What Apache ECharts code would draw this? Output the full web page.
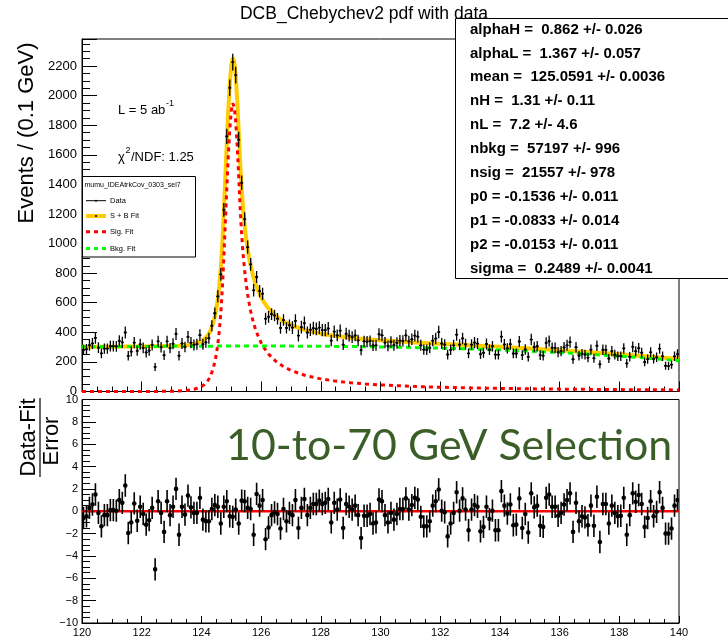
<!DOCTYPE html>
<html><head><meta charset="utf-8">
<script src="https://cdn.jsdelivr.net/npm/echarts@6/dist/echarts.min.js"></script>
<style>html,body{margin:0;padding:0;background:#fff}#c{width:728px;height:642px}</style>
</head><body><div id="c"></div>
<script>
// ---------------- DATA ----------------
const binCenters = [
120.05,120.15,120.25,120.35,120.45,120.55,120.65,120.75,120.85,120.95,
121.05,121.15,121.25,121.35,121.45,121.55,121.65,121.75,121.85,121.95,
122.05,122.15,122.25,122.35,122.45,122.55,122.65,122.75,122.85,122.95,
123.05,123.15,123.25,123.35,123.45,123.55,123.65,123.75,123.85,123.95,
124.05,124.15,124.25,124.35,124.45,124.55,124.65,124.75,124.85,124.95,
125.05,125.15,125.25,125.35,125.45,125.55,125.65,125.75,125.85,125.95,
126.05,126.15,126.25,126.35,126.45,126.55,126.65,126.75,126.85,126.95,
127.05,127.15,127.25,127.35,127.45,127.55,127.65,127.75,127.85,127.95,
128.05,128.15,128.25,128.35,128.45,128.55,128.65,128.75,128.85,128.95,
129.05,129.15,129.25,129.35,129.45,129.55,129.65,129.75,129.85,129.95,
130.05,130.15,130.25,130.35,130.45,130.55,130.65,130.75,130.85,130.95,
131.05,131.15,131.25,131.35,131.45,131.55,131.65,131.75,131.85,131.95,
132.05,132.15,132.25,132.35,132.45,132.55,132.65,132.75,132.85,132.95,
133.05,133.15,133.25,133.35,133.45,133.55,133.65,133.75,133.85,133.95,
134.05,134.15,134.25,134.35,134.45,134.55,134.65,134.75,134.85,134.95,
135.05,135.15,135.25,135.35,135.45,135.55,135.65,135.75,135.85,135.95,
136.05,136.15,136.25,136.35,136.45,136.55,136.65,136.75,136.85,136.95,
137.05,137.15,137.25,137.35,137.45,137.55,137.65,137.75,137.85,137.95,
138.05,138.15,138.25,138.35,138.45,138.55,138.65,138.75,138.85,138.95,
139.05,139.15,139.25,139.35,139.45,139.55,139.65,139.75,139.85,139.95];

const dataCounts = [
281,286,313,325,362,297,258,290,290,307,
307,305,342,332,399,241,270,330,275,319,
295,264,277,315,166,339,299,245,339,293,
323,389,242,325,301,369,330,315,320,381,
320,332,360,444,529,643,792,1228,1725,2053,
2227,2139,1703,1411,1165,976,860,684,774,679,
661,492,505,523,514,492,430,483,430,448,
432,477,378,435,462,399,418,428,423,432,
415,415,426,344,405,379,411,317,390,378,
368,379,345,280,339,337,341,311,312,387,
380,331,308,336,313,329,344,342,379,339,
353,378,371,312,283,282,295,344,358,402,
324,317,250,282,312,384,317,359,319,258,
317,331,324,252,262,321,282,306,249,249,
371,318,292,320,257,257,338,246,284,234,
351,301,306,246,242,329,340,296,295,266,
273,298,312,334,218,299,242,255,250,229,
283,225,309,184,282,281,223,273,249,239,
239,291,190,235,302,272,293,262,199,219,
265,220,231,290,238,174,172,182,238,253];

const dataErrors = [
35,35,37,37,39,36,33,35,35,36,
36,36,38,38,41,32,34,38,34,37,
36,34,35,37,27,38,36,32,38,35,
37,41,32,37,36,40,38,37,37,40,
37,37,38,38,39,41,43,47,52,56,
57,56,53,49,46,44,43,42,41,41,
40,40,40,39,39,39,39,39,38,38,
43,45,40,43,45,41,42,43,43,43,
42,42,43,38,42,40,42,37,41,40,
40,40,39,35,38,38,38,37,37,41,
40,38,36,38,37,38,38,38,40,38,
39,40,40,37,35,35,36,38,39,42,
37,37,33,35,37,41,37,39,37,33,
37,38,37,33,34,37,35,36,33,33,
40,37,35,37,33,33,38,33,35,32,
39,36,36,33,32,38,38,36,36,34,
34,36,37,38,31,36,32,33,33,31,
35,31,36,28,35,35,31,34,33,32,
32,35,29,32,36,34,35,34,29,31,
34,31,32,35,32,27,27,28,32,33];

const pulls = [
-0.6,-0.45,0.3,0.6,1.5,-0.15,-1.35,-0.35,-0.35,0.1,
0.1,0.05,1.0,0.75,2.3,-1.95,-1.0,0.7,-0.85,0.4,
-0.25,-1.2,-0.8,0.3,-5.2,0.9,-0.15,-1.85,0.9,-0.35,
0.4,2.0,-2.1,0.4,-0.3,1.4,0.35,-0.15,-0.15,1.2,
-0.75,-0.9,-0.9,0.2,0.55,0.4,-1.1,0.4,0.9,-0.45,
-0.5,0.15,-1.1,0.95,0.9,0.3,0.2,-2.1,1.55,0.5,
1.0,-2.5,-1.45,-0.35,-0.1,-0.25,-1.55,0.2,-0.9,-0.15,
-0.35,1.0,-1.5,0.3,1.1,-0.35,0.3,0.65,0.65,0.95,
0.65,0.75,1.1,-1.0,0.75,0.15,1.05,-1.5,0.65,0.4,
0.15,0.5,-0.35,-2.4,-0.4,-0.4,-0.25,-1.1,-1.0,1.05,
0.9,-0.35,-1.0,-0.15,-0.75,-0.25,0.2,0.2,1.15,0.15,
0.55,1.2,1.05,-0.5,-1.35,-1.35,-0.9,0.5,0.9,1.95,
0.05,-0.1,-2.25,-1.1,-0.15,1.7,0.05,1.15,0.15,-1.7,
0.15,0.55,0.4,-1.8,-1.4,0.4,-0.7,0.05,-1.7,-1.7,
1.8,0.5,-0.2,0.6,-1.25,-1.2,1.15,-1.5,-0.25,-1.9,
1.6,0.35,0.5,-1.3,-1.4,1.2,1.5,0.4,0.4,-0.4,
-0.15,0.6,1.0,1.6,-1.85,0.75,-0.9,-0.45,-0.55,-1.25,
0.5,-1.3,1.3,-2.75,0.65,0.65,-1.1,0.5,-0.15,-0.45,
-0.4,1.2,-2.1,-0.35,1.6,0.85,1.45,0.65,-1.4,-0.6,
0.9,-0.45,-0.05,1.7,0.3,-2.0,-2.0,-1.55,0.5,1.0];
const pullError = 1;
const binHalfWidth = 0.05;

// fit curves, read along the mass axis
const curveMass = [120,120.5,121,121.5,122,122.5,123,123.25,123.5,123.75,124,124.05,124.1,124.15,124.2,124.25,124.3,124.35,124.4,124.45,124.5,124.55,124.6,124.65,124.7,124.72,124.75,124.8,124.85,124.9,124.95,125,125.05,125.1,125.15,125.2,125.25,125.3,125.35,125.4,125.45,125.5,125.55,125.6,125.65,125.7,125.75,125.8,125.9,126,126.1,126.25,126.5,126.75,127,127.5,128,128.5,129,129.5,130,131,132,133,134,135,136,137,138,139,140];
const sigFit = [0,0,0.1,0.1,0.2,0.6,1.8,3.4,6.8,14.3,32.9,39.4,47.4,57.2,69.5,84.8,104,129,160,200,252,320,410,530,692,766,902,1134,1370,1590,1771,1896,1949,1924,1824,1661,1453,1231,1057,922,815,728,656,595,544,500,462,429,374,330,295,253,203,168,142,107,85.3,70.2,59.2,50.9,44.5,35.2,28.8,24.3,20.8,18.2,16.1,14.4,12.9,11.7,10.7];
const bkgFit = [302,302.5,303,303.8,304.5,305,305.6,305.8,306,306.2,306.4,306.4,306.5,306.5,306.5,306.6,306.6,306.6,306.7,306.7,306.7,306.7,306.8,306.8,306.8,306.8,306.8,306.9,306.9,306.9,306.9,307,307,307,307,307,307,307,307,307,307,307,307,307,307,307,307,307,307,307.1,307.1,307.1,307,307,306.8,306.3,305.7,304.9,304,302.9,301.5,298,293.5,287.8,281,272.7,263,252,239,224.6,208];
const totalFit = [302,302.5,303,304,305,306,307,309,313,320,339,346,354,364,376,391,411,436,467,507,559,627,717,837,999,1073,1209,1441,1677,1897,2078,2203,2256,2231,2131,1968,1760,1538,1364,1229,1122,1035,963,902,851,807,769,736,681,637,602,560,510,475,449,413,391,375,363,354,346,333,322,312,302,291,279,266,252,236,219];

const titleText = 'DCB_Chebychev2 pdf with data';
const statLines = [
 'alphaH =  0.862 +/- 0.026',
 'alphaL =  1.367 +/- 0.057',
 'mean =  125.0591 +/- 0.0036',
 'nH =  1.31 +/- 0.11',
 'nL =  7.2 +/- 4.6',
 'nbkg =  57197 +/- 996',
 'nsig =  21557 +/- 978',
 'p0 = -0.1536 +/- 0.011',
 'p1 = -0.0833 +/- 0.014',
 'p2 = -0.0153 +/- 0.011',
 'sigma =  0.2489 +/- 0.0041'];
const legendHeader = 'mumu_IDEAtrkCov_0303_sel7';
const legendLabels = ['Data','S + B Fit','Sig. Fit','Bkg. Fit'];

// ---------------- CHART ----------------
const FONT = '"Liberation Sans", Arial, Helvetica, sans-serif';
const chart = echarts.init(document.getElementById('c'), null, {renderer:'canvas'});

const dataSeriesData = binCenters.map((m,i)=>[m, dataCounts[i], dataErrors[i]]);
const pullSeriesData = binCenters.map((m,i)=>[m, pulls[i], pullError]);
const line = (arrY) => curveMass.map((m,i)=>[m, arrY[i]]);

function renderData(params, api){
  const m = api.value(0), d = api.value(1), e = api.value(2);
  const t = api.coord([m, d+e]), b = api.coord([m, d-e]);
  const l = api.coord([m-binHalfWidth, d]), r = api.coord([m+binHalfWidth, d]);
  const c = api.coord([m, d]);
  return {type:'group', children:[
    {type:'line', shape:{x1:t[0],y1:t[1],x2:b[0],y2:b[1]}, style:{stroke:'#000', lineWidth:1.3}},
    {type:'line', shape:{x1:l[0],y1:l[1],x2:r[0],y2:r[1]}, style:{stroke:'#000', lineWidth:1.3}},
    {type:'circle', shape:{cx:c[0], cy:c[1], r:1.2}, style:{fill:'#000'}}
  ]};
}
function renderPull(params, api){
  const m = api.value(0), p = api.value(1), e = api.value(2);
  const t = api.coord([m, p+e]), b = api.coord([m, p-e]);
  const c = api.coord([m, p]);
  return {type:'group', children:[
    {type:'line', shape:{x1:t[0],y1:t[1],x2:b[0],y2:b[1]}, style:{stroke:'#000', lineWidth:1.6}},
    {type:'circle', shape:{cx:c[0], cy:c[1], r:2.3}, style:{fill:'#000'}}
  ]};
}
const minus = v => (v < 0 ? '\u2212' + Math.abs(v) : String(v));

const axisCommon = {
  type:'value', splitLine:{show:false}, minorSplitLine:{show:false},
  axisLine:{show:true, onZero:false, lineStyle:{color:'#000', width:1}}
};

const T = (text, x, y, font, extra) => Object.assign({type:'text', z:100, style:Object.assign({text, x, y, font, fill:'#000', textAlign:'left', textVerticalAlign:'middle'}, extra||{})});

const graphics = [];
graphics.push(T(titleText, 364, 14, '17.5px ' + FONT, {textAlign:'center'}));
// stats box
graphics.push({type:'rect', z:90, shape:{x:455.5, y:18.5, width:300, height:260}, style:{fill:'#fff', stroke:'#000', lineWidth:1}});
statLines.forEach((s,i)=> graphics.push(T(s, 470, 29.5 + 23.9*i, 'bold 15px ' + FONT)));
// legend box
graphics.push({type:'rect', z:90, shape:{x:82.5, y:176.5, width:113, height:80.5}, style:{fill:'#fff', stroke:'#000', lineWidth:1}});
graphics.push(T(legendHeader, 84.5, 185, '7px ' + FONT));
const legY = [200.7, 216, 231.7, 248.5];
graphics.push({type:'line', z:100, shape:{x1:86, y1:legY[0], x2:106, y2:legY[0]}, style:{stroke:'#000', lineWidth:1}});
graphics.push({type:'circle', z:100, shape:{cx:96, cy:legY[0], r:1}, style:{fill:'#000'}});
graphics.push({type:'line', z:100, shape:{x1:86, y1:legY[1], x2:106, y2:legY[1]}, style:{stroke:'#ffcc00', lineWidth:4}});
graphics.push({type:'circle', z:101, shape:{cx:96, cy:legY[1], r:1}, style:{fill:'#000'}});
graphics.push({type:'line', z:100, shape:{x1:86, y1:legY[2], x2:106, y2:legY[2]}, style:{stroke:'#ff0000', lineWidth:3, lineDash:[4,4]}});
graphics.push({type:'line', z:100, shape:{x1:86, y1:legY[3], x2:106, y2:legY[3]}, style:{stroke:'#00ff00', lineWidth:3, lineDash:[4,4]}});
legendLabels.forEach((s,i)=> graphics.push(T(s, 110, legY[i], '7.5px ' + FONT)));
// annotations
graphics.push(T('L = 5 ab', 118, 110, '13px ' + FONT));
graphics.push(T('-1', 166, 104, '9px ' + FONT));
graphics.push(T('\u03c7', 118, 157, '13px ' + FONT));
graphics.push(T('2', 125.5, 151, '9px ' + FONT));
graphics.push(T('/NDF: 1.25', 131, 157, '13px ' + FONT));
// big selection label
graphics.push(T('10-to-70 GeV Selection', 226, 446, '42.9px Lato, "Open Sans", sans-serif', {fill:'#3b5e29'}));
// axis titles
graphics.push({type:'text', z:100, x:27, y:133, rotation:Math.PI/2, style:{text:'Events / (0.1 GeV)', x:0, y:0, font:'22px ' + FONT, fill:'#000', textAlign:'center', textVerticalAlign:'middle'}});
graphics.push({type:'text', z:100, x:29, y:437.5, rotation:Math.PI/2, style:{text:'Data-Fit', x:0, y:0, font:'22px ' + FONT, fill:'#000', textAlign:'center', textVerticalAlign:'middle'}});
graphics.push({type:'line', z:100, shape:{x1:40, y1:398, x2:40, y2:477}, style:{stroke:'#000', lineWidth:1.2}});
graphics.push({type:'text', z:100, x:52, y:441, rotation:Math.PI/2, style:{text:'Error', x:0, y:0, font:'22px ' + FONT, fill:'#000', textAlign:'center', textVerticalAlign:'middle'}});

const option = {
  animation:false,
  backgroundColor:'#fff',
  textStyle:{fontFamily:FONT, color:'#000'},
  grid:[
    {left:82, top:39, width:597, height:352.5, show:true, borderColor:'#000', borderWidth:1, backgroundColor:'transparent'},
    {left:82, top:399.5, width:597, height:223.5, show:true, borderColor:'#000', borderWidth:1, backgroundColor:'transparent'}
  ],
  xAxis:[
    Object.assign({}, axisCommon, {gridIndex:0, min:120, max:140, interval:2,
      axisTick:{show:true, inside:true, length:10, lineStyle:{color:'#000'}},
      minorTick:{show:true, splitNumber:4, length:5, lineStyle:{color:'#000'}},
      axisLabel:{show:false}}),
    Object.assign({}, axisCommon, {gridIndex:1, min:120, max:140, interval:2,
      axisTick:{show:true, inside:true, length:7, lineStyle:{color:'#000'}},
      minorTick:{show:true, splitNumber:4, length:4, lineStyle:{color:'#000'}},
      axisLabel:{show:true, fontSize:11, color:'#000', margin:4, fontFamily:FONT}})
  ],
  yAxis:[
    Object.assign({}, axisCommon, {gridIndex:0, min:0, max:2383, interval:200,
      axisTick:{show:true, inside:true, length:15, lineStyle:{color:'#000'}},
      minorTick:{show:true, splitNumber:4, length:8, lineStyle:{color:'#000'}},
      axisLabel:{show:true, fontSize:13, color:'#000', margin:5, fontFamily:FONT, showMaxLabel:false,
        formatter: v => (v % 200 === 0 ? String(v) : '')}}),
    Object.assign({}, axisCommon, {gridIndex:1, min:-10, max:10, interval:2,
      axisTick:{show:true, inside:true, length:14, lineStyle:{color:'#000'}},
      minorTick:{show:true, splitNumber:4, length:8, lineStyle:{color:'#000'}},
      axisLabel:{show:true, fontSize:11, color:'#000', margin:4, fontFamily:FONT, formatter:minus}})
  ],
  series:[
    {type:'line', name:'S + B Fit', xAxisIndex:0, yAxisIndex:0, data:line(totalFit), showSymbol:false, symbol:'none', clip:true,
      lineStyle:{color:'#ffcc00', width:4}, z:2},
    {type:'line', name:'Sig. Fit', xAxisIndex:0, yAxisIndex:0, data:line(sigFit), showSymbol:false, symbol:'none', clip:true,
      lineStyle:{color:'#ff0000', width:3, type:[4,4]}, z:3},
    {type:'line', name:'Bkg. Fit', xAxisIndex:0, yAxisIndex:0, data:line(bkgFit), showSymbol:false, symbol:'none', clip:true,
      lineStyle:{color:'#00ff00', width:3, type:[5,4]}, z:4},
    {type:'custom', name:'Data', xAxisIndex:0, yAxisIndex:0, data:dataSeriesData, renderItem:renderData, clip:true, z:5},
    {type:'line', name:'zero', xAxisIndex:1, yAxisIndex:1, data:[[120,0],[140,0]], showSymbol:false, symbol:'none',
      lineStyle:{color:'#ff0000', width:2.5}, z:2},
    {type:'custom', name:'Pull', xAxisIndex:1, yAxisIndex:1, data:pullSeriesData, renderItem:renderPull, clip:true, z:5}
  ],
  graphic: graphics
};
chart.setOption(option);
</script></body></html>
